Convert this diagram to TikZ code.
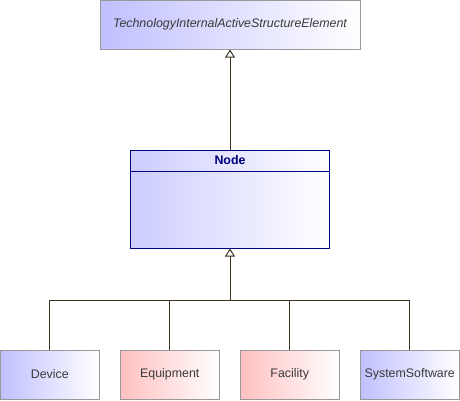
\documentclass[tikz,border=0pt]{standalone}
\usepackage{fontspec}
\setmainfont{Liberation Sans}
\usetikzlibrary{arrows.meta,calc}
\definecolor{bluec}{HTML}{C0C0FF}
\definecolor{redc}{HTML}{FFC0C0}
\definecolor{edgec}{HTML}{999999}
\definecolor{linec}{HTML}{3F3423}
\definecolor{navy}{HTML}{000080}
\definecolor{txt}{HTML}{3A3A3A}
\begin{document}
\begin{tikzpicture}[x=1pt,y=-1pt,
  elem/.style={draw=edgec, line width=1pt, minimum width=99pt, minimum height=49pt, inner sep=0pt, font=\fontsize{12.4}{14}\selectfont, text=txt},
  blueel/.style={elem, left color=bluec, right color=white},
  redel/.style={elem, left color=redc, right color=white},
  lnk/.style={draw=linec, line width=1pt},
  gen/.style={lnk, -{Triangle[open, width=10pt, length=8pt, fill=white]}}
]
\useasboundingbox (0,0) rectangle (460,400);
\node[blueel, minimum width=260pt, minimum height=49pt, font=\fontsize{12.4}{14}\selectfont\itshape] (top) at (230,24.5) {TechnologyInternalActiveStructureElement};
\node[draw=navy, line width=1pt, left color=bluec!80, right color=white, minimum width=199pt, minimum height=98pt, inner sep=0pt] (node) at (230,199) {};
\node[text=navy, font=\fontsize{12.4}{14}\selectfont\bfseries, anchor=center] (nodelbl) at ($(node.north)+(0,10.5)$) {Node};
\draw[navy, line width=1pt] ($(node.north west)+(0,22)$) coordinate (dl) -- ($(node.north east)+(0,22)$) coordinate (dr);
\node[blueel] (dev) at (49.75,374.5) {Device};
\node[redel] (equ) at (169.75,374.5) {Equipment};
\node[redel] (fac) at (289.75,374.5) {Facility};
\node[blueel] (sys) at (409.75,374.5) {SystemSoftware};
\coordinate (bus) at (230,300);
\draw[gen] (node.north) -- (top.south);
\draw[lnk] (dev.north) |- (bus);
\draw[lnk] (equ.north) |- (bus);
\draw[lnk] (fac.north) |- (bus);
\draw[lnk] (sys.north) |- (bus);
\draw[gen] (bus) -- (node.south);
\end{tikzpicture}
\end{document}
